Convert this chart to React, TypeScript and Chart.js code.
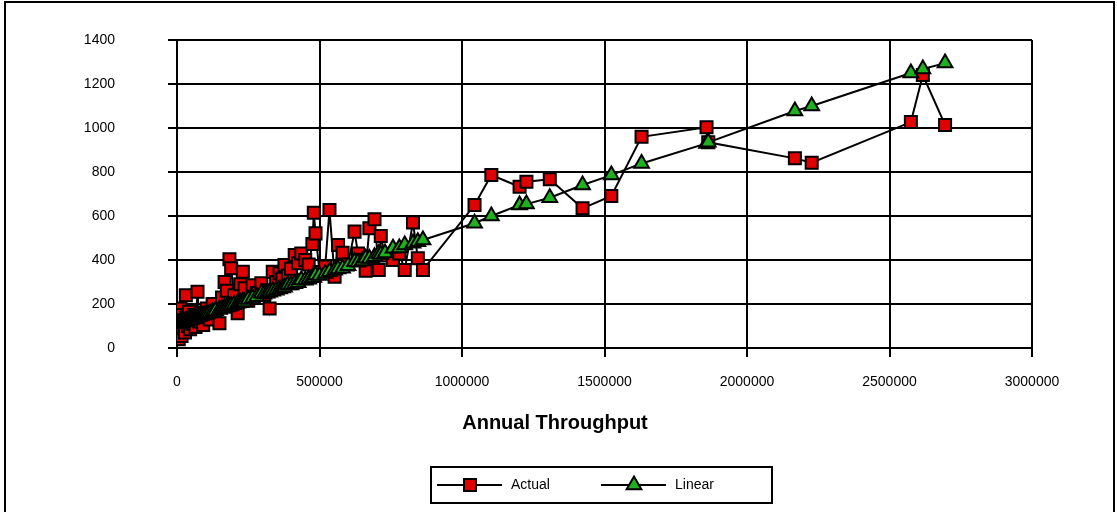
import React, { useEffect, useRef } from 'react';
import { Chart, registerables } from 'chart.js';

Chart.register(...registerables);

const seriesNames = ['Actual', 'Linear'];
const xTitle = 'Annual Throughput';
const xTicks = [0, 500000, 1000000, 1500000, 2000000, 2500000, 3000000];
const yTicks = [0, 200, 400, 600, 800, 1000, 1200, 1400];

const throughput = [
  2000, 4000, 6000, 8000, 10000, 12000, 14000, 16000, 18000, 20000,
  24000, 28000, 31000, 34000, 38000, 42000, 46000, 50000, 55000, 60000,
  65000, 72000, 78000, 85000, 92000, 100000, 105000, 115000, 125000, 135000,
  149000, 158000, 167000, 175000, 184000, 190000, 200000, 213000, 222000, 231000,
  237000, 250000, 265000, 280000, 296000, 305000, 316000, 325000, 336000, 348000,
  360000, 370000, 377000, 389000, 400000, 413000, 425000, 436000, 450000, 462000,
  475000, 480000, 486000, 500000, 520000, 535000, 553000, 565000, 581000, 600000,
  623000, 635000, 650000, 662000, 675000, 693000, 708000, 715000, 730000, 758000,
  780000, 799000, 828000, 845000, 863000, 1044000, 1103000, 1202000, 1226000, 1308000,
  1423000, 1524000, 1630000, 1858000, 1864000, 2168000, 2227000, 2575000, 2617000, 2695000,
];

const actual = [
  60, 95, 40, 130, 75, 180, 110, 55, 150, 90,
  120, 70, 240, 140, 100, 165, 85, 130, 110, 150,
  95, 256, 120, 160, 105, 140, 180, 130, 200, 160,
  112, 230, 300, 260, 403, 362, 240, 158, 290, 347,
  271, 215, 285, 250, 294, 241, 262, 180, 347, 300,
  340, 315, 377, 330, 360, 423, 385, 430, 400, 380,
  473, 615, 521, 345, 370, 627, 324, 468, 433, 380,
  529, 430, 400, 351, 544, 585, 355, 509, 420, 400,
  430, 355, 571, 408, 355, 650, 786, 733, 756, 767,
  635, 691, 960, 1003, 935, 862, 842, 1027, 1241, 1014,
];

const linear = [
  110, 111, 112, 113, 113, 114, 115, 116, 117, 118,
  120, 121, 123, 124, 126, 128, 129, 131, 133, 136,
  138, 141, 143, 147, 150, 153, 155, 160, 164, 169,
  175, 179, 183, 186, 190, 193, 197, 203, 207, 211,
  209, 220, 226, 233, 249, 244, 249, 253, 258, 263,
  268, 273, 276, 286, 286, 292, 297, 309, 308, 313,
  319, 321, 332, 330, 339, 347, 353, 359, 362, 374,
  392, 390, 396, 408, 407, 415, 430, 425, 432, 453,
  454, 468, 476, 483, 491, 567, 600, 650, 654, 683,
  741, 786, 839, 930, 935, 1077, 1100, 1250, 1268, 1295,
];

const FONT = "'Liberation Sans', Arial, sans-serif";
const RED = '#e00000';
const GREEN = '#1fb01f';

const framePlugin = {
  id: 'outerFrame',
  beforeDraw(chart: any) {
    const ctx = chart.ctx;
    ctx.save();
    ctx.fillStyle = '#ffffff';
    ctx.fillRect(0, 0, chart.width, chart.height);
    ctx.strokeStyle = '#000';
    ctx.lineWidth = 2;
    ctx.strokeRect(5, 2, 1109, 540);
    ctx.restore();
  },
};

const axisTitlePlugin = {
  id: 'axisTitle',
  afterDraw(chart: any) {
    const ctx = chart.ctx;
    ctx.save();
    ctx.fillStyle = '#000';
    ctx.font = `bold 20px ${FONT}`;
    ctx.textAlign = 'center';
    ctx.textBaseline = 'middle';
    ctx.fillText(xTitle, 555, 423);
    ctx.restore();
  },
};

function drawMarker(ctx: CanvasRenderingContext2D, style: string, x: number, y: number, fill: string) {
  ctx.beginPath();
  if (style === 'rect') {
    ctx.rect(x - 6, y - 6, 12, 12);
  } else {
    const r = 8.5;
    ctx.moveTo(x, y - r);
    ctx.lineTo(x + r * 0.866, y + r / 2);
    ctx.lineTo(x - r * 0.866, y + r / 2);
    ctx.closePath();
  }
  ctx.fillStyle = fill;
  ctx.fill();
  ctx.lineWidth = 2;
  ctx.strokeStyle = '#000';
  ctx.stroke();
}

const legendPlugin = {
  id: 'boxLegend',
  afterDraw(chart: any) {
    const ctx = chart.ctx;
    const bx = 431, by = 467, bw = 341, bh = 36;
    const cy = by + bh / 2;
    const starts = [437, 601];
    ctx.save();
    ctx.strokeStyle = '#000';
    ctx.lineWidth = 2;
    ctx.strokeRect(bx, by, bw, bh);
    chart.data.datasets.forEach((ds: any, i: number) => {
      const x0 = starts[i];
      ctx.beginPath();
      ctx.moveTo(x0, cy);
      ctx.lineTo(x0 + 65, cy);
      ctx.lineWidth = 2;
      ctx.strokeStyle = '#000';
      ctx.stroke();
      drawMarker(ctx, ds.pointStyle, x0 + 33, cy, ds.pointBackgroundColor);
      ctx.fillStyle = '#000';
      ctx.font = `14px ${FONT}`;
      ctx.textBaseline = 'middle';
      ctx.textAlign = 'left';
      ctx.fillText(ds.label, x0 + 74, cy);
    });
    ctx.restore();
  },
};

export default function App() {
  const ref = useRef<HTMLCanvasElement | null>(null);

  useEffect(() => {
    if (!ref.current) return;
    const toPoints = (ys: number[]) => throughput.map((x, i) => ({ x, y: ys[i] }));
    const chart = new Chart(ref.current, {
      type: 'line',
      data: {
        datasets: [
          {
            label: seriesNames[0],
            data: toPoints(actual),
            borderColor: '#000',
            borderWidth: 2,
            pointStyle: 'rect',
            pointRadius: 8.5,
            pointBackgroundColor: RED,
            pointBorderColor: '#000',
            pointBorderWidth: 2,
            tension: 0,
            order: 2,
          },
          {
            label: seriesNames[1],
            data: toPoints(linear),
            borderColor: '#000',
            borderWidth: 2,
            pointStyle: 'triangle',
            pointRadius: 8.5,
            pointBackgroundColor: GREEN,
            pointBorderColor: '#000',
            pointBorderWidth: 2,
            tension: 0,
            order: 1,
          },
        ],
      } as any,
      options: {
        responsive: false,
        animation: false,
        devicePixelRatio: 1,
        layout: { padding: { top: 40, right: 85, bottom: 73, left: 0 } },
        plugins: {
          legend: { display: false },
          tooltip: { enabled: false },
        },
        scales: {
          x: {
            type: 'linear',
            min: 0,
            max: 3000000,
            afterBuildTicks: (s: any) => {
              s.ticks = xTicks.map((v) => ({ value: v }));
            },
            afterFit: (s: any) => {
              s.height = 91;
            },
            ticks: {
              color: '#000',
              font: { family: FONT, size: 14 },
              padding: 17,
              maxRotation: 0,
              autoSkip: false,
              callback: (v: any) => String(v),
            },
            grid: { color: '#000', lineWidth: 2, tickLength: 9 },
            border: { color: '#000', width: 2 },
            title: { display: false },
          },
          y: {
            type: 'linear',
            min: 0,
            max: 1400,
            afterBuildTicks: (s: any) => {
              s.ticks = yTicks.map((v) => ({ value: v }));
            },
            afterFit: (s: any) => {
              s.width = 177;
              s.paddingTop = 8;
              s.paddingBottom = 8;
            },
            ticks: {
              color: '#000',
              font: { family: FONT, size: 14 },
              padding: 53,
              callback: (v: any) => String(v),
            },
            grid: { color: '#000', lineWidth: 2, tickLength: 9 },
            border: { color: '#000', width: 2 },
          },
        },
      } as any,
      plugins: [framePlugin, axisTitlePlugin, legendPlugin],
    });
    return () => chart.destroy();
  }, []);

  return (
    <div style={{ position: 'absolute', left: 0, top: 0, width: 1117, height: 512 }}>
      <canvas ref={ref} width={1117} height={512} style={{ display: 'block', width: 1117, height: 512 }} />
    </div>
  );
}
